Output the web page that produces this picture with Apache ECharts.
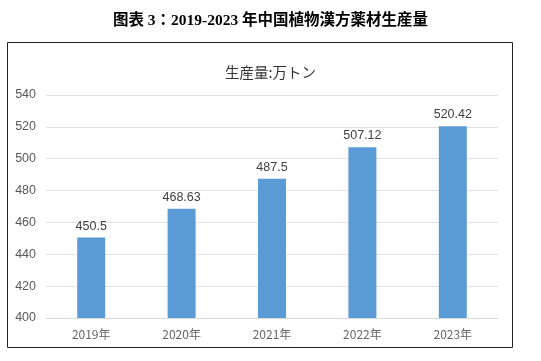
<!DOCTYPE html>
<html><head><meta charset="utf-8">
<script src="https://cdn.jsdelivr.net/npm/echarts@6/dist/echarts.min.js"></script>
<style>html,body{margin:0;padding:0;background:#fff}#c{width:541px;height:361px}</style>
</head><body><div id="c"></div>
<script>
const categories = ['2019年','2020年','2021年','2022年','2023年'];
const values = [450.5, 468.63, 487.5, 507.12, 520.42];
const labels = ['450.5','468.63','487.5','507.12','520.42'];
const chart = echarts.init(document.getElementById('c'));
chart.setOption({
  animation:false,
  title:[{text:'图表 3：2019-2023 年中国植物漢方薬材生産量',left:'center',top:8,
    textStyle:{fontFamily:'"Liberation Serif","Noto Sans CJK JP"',fontWeight:'bold',fontSize:15.5,color:'#000'}},
    {text:'生産量:万トン',left:'center',top:60,
    textStyle:{fontFamily:'"Noto Sans CJK JP"',fontWeight:'normal',fontSize:14.5,color:'#333'}}],
  graphic:[{type:'rect',shape:{x:7.5,y:42.5,width:505,height:305},style:{fill:'none',stroke:'#222',lineWidth:1}}],
  grid:{left:46,top:95,width:452,height:223},
  xAxis:{type:'category',data:categories,axisLine:{lineStyle:{color:'#D9D9D9'}},axisTick:{show:false},
    axisLabel:{color:'#666',fontSize:12,margin:10,fontFamily:'"Noto Sans CJK JP"'}},
  yAxis:{type:'value',min:400,max:540,interval:20,axisLine:{show:false},axisTick:{show:false},
    splitLine:{lineStyle:{color:'#E0E0E0'}},axisLabel:{color:'#595959',fontSize:12.5,margin:10}},
  series:[{type:'bar',data:values,barWidth:28,itemStyle:{color:'#5B9BD5'},
    label:{show:true,position:'top',color:'#404040',fontSize:12.5,formatter:p=>labels[p.dataIndex]}}]
});
</script></body></html>
